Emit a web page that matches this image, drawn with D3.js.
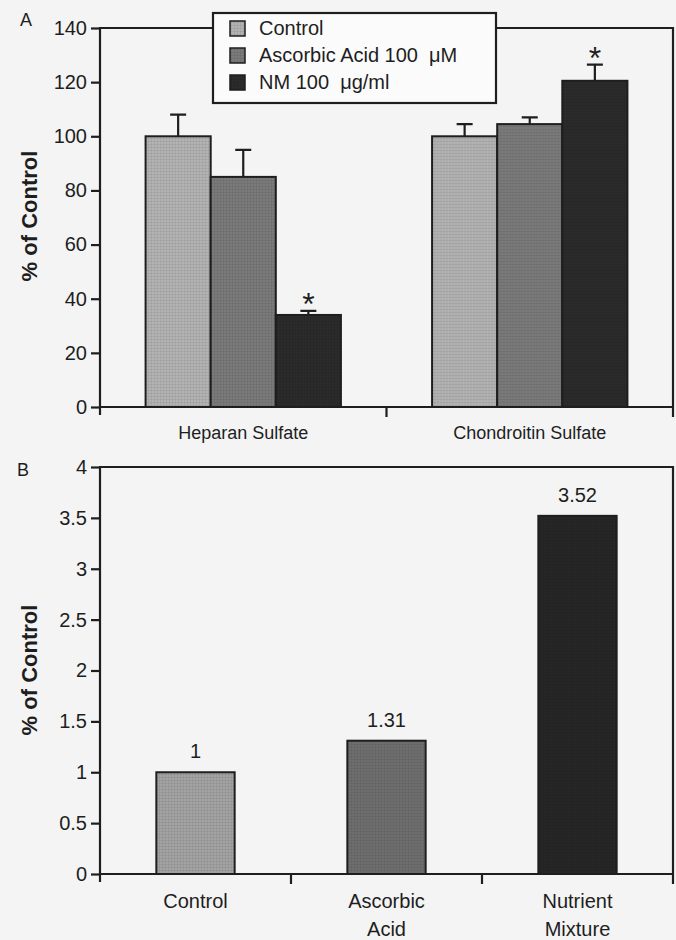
<!DOCTYPE html>
<html>
<head>
<meta charset="utf-8">
<script src="https://cdn.jsdelivr.net/npm/d3@7"></script>
<style>
  body { margin: 0; background: #f4f4f4; }
  svg { display: block; font-family: Arial, "Liberation Sans", sans-serif; }
  text { white-space: pre; }
</style>
</head>
<body>
<svg id="chart" width="676" height="940"></svg>
<script>
// Panel A data
const groupsA = ['Heparan Sulfate', 'Chondroitin Sulfate'];
const seriesA = ['Control', 'Ascorbic Acid 100  \u03bcM', 'NM 100  \u03bcg/ml'];
const meansA  = [[100, 85, 34], [100, 104.5, 120.5]];
const errorsA = [[8, 10, 1.5], [4.5, 2.5, 6]];
const starsA  = [[false, false, true], [false, false, true]];
const ticksA  = [0, 20, 40, 60, 80, 100, 120, 140];

// Panel B data
const categoriesB = [['Control'], ['Ascorbic', 'Acid'], ['Nutrient', 'Mixture']];
const valuesB = [1, 1.31, 3.52];
const labelsB = ['1', '1.31', '3.52'];
const ticksB  = [0, 0.5, 1, 1.5, 2, 2.5, 3, 3.5, 4];

const INK = '#1e1e1e';
const colorsA = ['#b3b3b3', '#7a7a7a', '#2b2b2b'];
const colorsB = ['#a3a3a3', '#6e6e6e', '#262626'];

const svg = d3.select('#chart');
const defs = svg.append('defs');

// fine screen texture like the printed bars
function pattern(id, color) {
  const p = defs.append('pattern')
    .attr('id', id)
    .attr('width', 3).attr('height', 3)
    .attr('patternUnits', 'userSpaceOnUse');
  p.append('rect').attr('width', 3).attr('height', 3).attr('fill', color);
  p.append('path').attr('d', 'M0,0.5H3M0.5,0V3')
    .attr('stroke', '#000').attr('stroke-opacity', 0.06).attr('stroke-width', 1);
  return `url(#${id})`;
}
const fillsA = colorsA.map((c, i) => pattern('pa' + i, c));
const fillsB = colorsB.map((c, i) => pattern('pb' + i, c));

const left = 100, right = 673;

function frame(g, top, bottom, x, domain) {
  g.append('path')
    .attr('d', `M${left},${bottom + 8}V${top}H${right}V${bottom + 10}`)
    .attr('fill', 'none').attr('stroke', INK).attr('stroke-width', 2.2);
  g.append('line')
    .attr('x1', left).attr('x2', right).attr('y1', bottom).attr('y2', bottom)
    .attr('stroke', INK).attr('stroke-width', 2.2);
  const bounds = domain.map(d => x(d)).concat([x(domain[domain.length - 1]) + x.bandwidth()]);
  g.selectAll('line.xt').data(bounds.slice(1, -1)).join('line')
    .attr('class', 'xt')
    .attr('x1', d => d).attr('x2', d => d)
    .attr('y1', bottom).attr('y2', bottom + 10)
    .attr('stroke', INK).attr('stroke-width', 2.2);
}

function yAxis(g, y, ticks, fmt) {
  const ax = g.append('g')
    .attr('transform', `translate(${left},0)`)
    .call(d3.axisLeft(y).tickValues(ticks).tickFormat(fmt).tickSize(9).tickPadding(4).tickSizeOuter(0));
  ax.select('.domain').remove();
  ax.selectAll('line').attr('stroke', INK).attr('stroke-width', 2.2);
  ax.selectAll('text').attr('font-size', '20px').attr('fill', INK)
    .attr('font-family', 'Arial, "Liberation Sans", sans-serif');
}

function yTitle(g, cy) {
  g.append('text')
    .attr('transform', `translate(37,${cy}) rotate(-90)`)
    .attr('text-anchor', 'middle')
    .attr('font-size', '22px').attr('font-weight', 'bold').attr('fill', INK)
    .text('% of Control');
}

// ---------- Panel A ----------
{
  const top = 28, bottom = 407;
  const g = svg.append('g');

  const x = d3.scaleBand().domain(groupsA).range([left, right]).padding(0);
  const xs = d3.scaleBand().domain(d3.range(seriesA.length)).range([0, x.bandwidth()])
    .paddingInner(0).paddingOuter(0.7);
  const y = d3.scaleLinear().domain([0, 140]).range([bottom, top]);

  groupsA.forEach((grp, gi) => {
    const gg = g.append('g').attr('transform', `translate(${x(grp)},0)`);
    const rows = seriesA.map((s, si) => ({
      si, mean: meansA[gi][si], err: errorsA[gi][si], star: starsA[gi][si]
    }));

    // error bars (drawn first so the bar outline sits on top)
    rows.forEach(r => {
      const cx = xs(r.si) + xs.bandwidth() / 2;
      gg.append('path')
        .attr('d', `M${cx},${y(r.mean)}V${y(r.mean + r.err)}M${cx - 8},${y(r.mean + r.err)}H${cx + 8}`)
        .attr('fill', 'none').attr('stroke', INK).attr('stroke-width', 2.2);
      if (r.star) {
        gg.append('text')
          .attr('x', cx).attr('y', y(r.mean + r.err) + 4)
          .attr('text-anchor', 'middle').attr('font-size', '32px').attr('fill', INK)
          .text('*');
      }
    });

    gg.selectAll('rect.bar').data(rows).join('rect')
      .attr('class', 'bar')
      .attr('x', d => xs(d.si))
      .attr('y', d => y(d.mean))
      .attr('width', xs.bandwidth())
      .attr('height', d => y(0) - y(d.mean))
      .attr('fill', d => fillsA[d.si])
      .attr('stroke', INK).attr('stroke-width', 2);
  });

  frame(g, top, bottom, x, groupsA);
  yAxis(g, y, ticksA, d3.format('d'));
  yTitle(g, 216);

  g.selectAll('text.xl').data(groupsA).join('text')
    .attr('class', 'xl')
    .attr('x', d => x(d) + x.bandwidth() / 2)
    .attr('y', 439)
    .attr('text-anchor', 'middle').attr('font-size', '18px').attr('fill', INK)
    .text(d => d);

  g.append('text').attr('x', 20).attr('y', 26)
    .attr('font-size', '18px').attr('fill', INK).text('A');

  // legend
  const lg = g.append('g').attr('transform', 'translate(213,13)');
  lg.append('rect').attr('width', 283).attr('height', 90)
    .attr('fill', '#fbfbfb').attr('stroke', INK).attr('stroke-width', 2.2);
  seriesA.forEach((s, i) => {
    const cy = 15 + i * 27;
    lg.append('rect').attr('x', 17).attr('y', cy - 7).attr('width', 15).attr('height', 15)
      .attr('fill', fillsA[i]).attr('stroke', INK).attr('stroke-width', 1.5);
    lg.append('text').attr('x', 46).attr('y', cy + 7)
      .attr('font-size', '20px').attr('fill', INK).text(s);
  });
}

// ---------- Panel B ----------
{
  const top = 467, bottom = 874;
  const g = svg.append('g');
  const keys = categoriesB.map((c, i) => i);

  const x = d3.scaleBand().domain(keys).range([left, right]).padding(0);
  const y = d3.scaleLinear().domain([0, 4]).range([bottom, top]);
  const bw = x.bandwidth() * 0.41;

  g.selectAll('rect.bar').data(valuesB).join('rect')
    .attr('class', 'bar')
    .attr('x', (d, i) => x(i) + x.bandwidth() / 2 - bw / 2)
    .attr('y', d => y(d))
    .attr('width', bw)
    .attr('height', d => y(0) - y(d))
    .attr('fill', (d, i) => fillsB[i])
    .attr('stroke', INK).attr('stroke-width', 2);

  g.selectAll('text.val').data(valuesB).join('text')
    .attr('class', 'val')
    .attr('x', (d, i) => x(i) + x.bandwidth() / 2)
    .attr('y', d => y(d) - 14)
    .attr('text-anchor', 'middle').attr('font-size', '20px').attr('fill', INK)
    .text((d, i) => labelsB[i]);

  frame(g, top, bottom, x, keys);
  yAxis(g, y, ticksB, d3.format(''));
  yTitle(g, 670);

  categoriesB.forEach((lines, i) => {
    const t = g.append('text')
      .attr('x', x(i) + x.bandwidth() / 2)
      .attr('y', 908)
      .attr('text-anchor', 'middle').attr('font-size', '20px').attr('fill', INK);
    lines.forEach((ln, li) => {
      t.append('tspan').attr('x', x(i) + x.bandwidth() / 2).attr('dy', li ? 28 : 0).text(ln);
    });
  });

  g.append('text').attr('x', 17).attr('y', 476)
    .attr('font-size', '18px').attr('fill', INK).text('B');
}
</script>
</body>
</html>
